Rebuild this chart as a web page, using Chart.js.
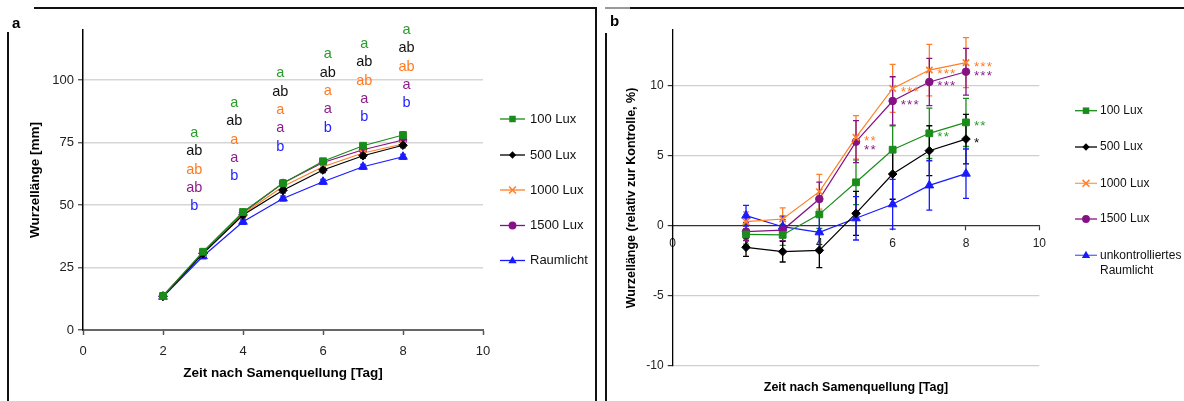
<!DOCTYPE html>
<html><head><meta charset="utf-8">
<script src="https://cdn.jsdelivr.net/npm/chart.js@4/dist/chart.umd.min.js"></script>
<style>
html,body{margin:0;padding:0;background:#fff;}
#wrap{position:relative;width:1184px;height:401px;overflow:hidden;background:#fff;font-family:"Liberation Sans",Arial,sans-serif;}
canvas{position:absolute;top:0;}
.ln{position:absolute;background:#111;}
.lab{position:absolute;font-weight:bold;font-size:15px;color:#000;line-height:15px;}
</style></head>
<body><div id="wrap">
<canvas id="ca" width="597" height="401" style="left:0px"></canvas>
<canvas id="cb" width="587" height="401" style="left:597px"></canvas>
<div class="ln" style="left:34px;top:7px;width:562px;height:2px"></div>
<div class="ln" style="left:7px;top:32px;width:2px;height:369px"></div>
<div class="ln" style="left:595px;top:7px;width:2px;height:394px"></div>
<div class="ln" style="left:605px;top:7px;width:25px;height:2px;background:#999"></div>
<div class="ln" style="left:630px;top:7px;width:554px;height:2px"></div>
<div class="ln" style="left:605px;top:33px;width:2px;height:368px"></div>
<div class="lab" style="left:12px;top:15px">a</div>
<div class="lab" style="left:610px;top:13px">b</div>
</div>
<script>
// ---------- data ----------
const days = [2, 3, 4, 5, 6, 7, 8];
const xTicks = [0, 2, 4, 6, 8, 10];
const yTicksA = [0, 25, 50, 75, 100];
const yTicksB = [-10, -5, 0, 5, 10];
const namesA = ['100 Lux', '500 Lux', '1000 Lux', '1500 Lux', 'Raumlicht'];
const namesB = ['100 Lux', '500 Lux', '1000 Lux', '1500 Lux', 'unkontrolliertes\nRaumlicht'];

// panel a: Wurzellänge [mm]
const lenLux100  = [13.6, 31.3, 47.2, 58.7, 67.5, 73.7, 78.0];
const lenLux500  = [13.4, 30.6, 46.0, 55.9, 64.0, 69.7, 73.9];
const lenLux1000 = [13.6, 30.7, 46.4, 57.4, 65.3, 70.8, 74.4];
const lenLux1500 = [13.7, 30.8, 46.9, 58.8, 67.0, 72.1, 76.0];
const lenRaum    = [13.3, 29.5, 43.3, 52.6, 59.3, 65.3, 69.3];
const errLux100  = [0.6, 1.0, 1.0, 1.0, 1.0, 1.0, 1.1];
const errLux500  = [0.6, 1.0, 1.1, 1.1, 1.1, 1.0, 1.0];
const errLux1000 = [0.6, 1.0, 1.0, 1.0, 1.0, 1.0, 1.0];
const errLux1500 = [0.6, 1.0, 1.0, 1.0, 1.0, 1.0, 1.0];
const errRaum    = [0.6, 1.0, 1.0, 1.0, 1.0, 1.0, 1.0];

// significance letters (days 3..8)
const letterDays = [2.78, 3.78, 4.93, 6.12, 7.03, 8.09];
const letterTopY = [78.9, 90.9, 102.7, 110.3, 114.5, 120.1];
const lettersLux100  = ['a', 'a', 'a', 'a', 'a', 'a'];
const lettersLux500  = ['ab', 'ab', 'ab', 'ab', 'ab', 'ab'];
const lettersLux1000 = ['ab', 'a', 'a', 'a', 'ab', 'ab'];
const lettersLux1500 = ['ab', 'a', 'a', 'a', 'a', 'a'];
const lettersRaum    = ['b', 'b', 'b', 'b', 'b', 'b'];

// panel b: relative to control [%]
const relLux100  = [-0.60, -0.64, 0.83, 3.12, 5.45, 6.62, 7.40];
const relLux500  = [-1.52, -1.83, -1.74, 0.90, 3.71, 5.38, 6.21];
const relLux1000 = [0.31, 0.50, 2.45, 6.33, 9.83, 11.14, 11.67];
const relLux1500 = [-0.40, -0.29, 1.93, 6.02, 8.93, 10.29, 11.02];
const relRaum    = [0.74, -0.05, -0.45, 0.55, 1.55, 2.90, 3.74];
const relErrLux100  = [0.70, 0.75, 1.00, 1.60, 1.70, 1.80, 1.72];
const relErrLux500  = [0.65, 0.74, 1.24, 1.57, 1.80, 1.78, 1.77];
const relErrLux1000 = [0.70, 0.79, 1.24, 1.55, 1.72, 1.84, 1.78];
const relErrLux1500 = [0.65, 0.75, 1.20, 1.50, 1.73, 1.69, 1.67];
const relErrRaum    = [0.74, 0.75, 1.30, 1.55, 1.78, 1.76, 1.76];
const starsLux100  = ['', '', '', '', '', '**', '**'];
const starsLux500  = ['', '', '', '', '', '', '*'];
const starsLux1000 = ['', '', '', '**', '***', '***', '***'];
const starsLux1500 = ['', '', '', '**', '***', '***', '***'];
const starsRaum    = ['', '', '', '', '', '', ''];

// ---------- styles ----------
const FONT = '"Liberation Sans", Arial, sans-serif';
const colors = ['#1a8c1a', '#000000', '#ff7f27', '#851185', '#1a1aff'];
const textColors = ['#2a9a2a', '#111111', '#ff7a22', '#8a1f8a', '#2323ff'];
const legendLineColorsB = ['#1a8c1a', '#000000', '#ffa060', '#851185', '#5a6aff'];
const pStyles = ['rect', 'rectRot', 'crossRot', 'circle', 'triangle'];
const pRadius = [4.8, 4.3, 4.5, 3.8, 5];

const seriesA = [lenLux100, lenLux500, lenLux1000, lenLux1500, lenRaum];
const errA = [errLux100, errLux500, errLux1000, errLux1500, errRaum];
const lettersA = [lettersLux100, lettersLux500, lettersLux1000, lettersLux1500, lettersRaum];
const seriesB = [relLux100, relLux500, relLux1000, relLux1500, relRaum];
const errB = [relErrLux100, relErrLux500, relErrLux1000, relErrLux1500, relErrRaum];
const starsB = [starsLux100, starsLux500, starsLux1000, starsLux1500, starsRaum];

function makeDatasets(series, names) {
  return series.map((vals, i) => ({
    label: names[i],
    data: days.map((d, j) => ({ x: d, y: vals[j] })),
    borderColor: colors[i],
    backgroundColor: colors[i],
    borderWidth: 1.2,
    pointStyle: pStyles[i],
    pointRadius: pRadius[i],
    pointBorderWidth: i === 2 ? 1.7 : 1,
    pointBackgroundColor: colors[i],
    pointBorderColor: colors[i],
    tension: 0,
    fill: false
  }));
}

function drawMarker(ctx, style, x, y, r, color) {
  ctx.save();
  ctx.fillStyle = color; ctx.strokeStyle = color; ctx.lineWidth = 1.5;
  ctx.beginPath();
  if (style === 'rect') { const s = r * Math.SQRT1_2; ctx.rect(x - s, y - s, 2 * s, 2 * s); ctx.fill(); }
  else if (style === 'rectRot') { const s = r * 0.8; ctx.moveTo(x, y - s); ctx.lineTo(x + s, y); ctx.lineTo(x, y + s); ctx.lineTo(x - s, y); ctx.closePath(); ctx.fill(); }
  else if (style === 'crossRot') { const s = r * 0.75; ctx.moveTo(x - s, y - s); ctx.lineTo(x + s, y + s); ctx.moveTo(x + s, y - s); ctx.lineTo(x - s, y + s); ctx.stroke(); }
  else if (style === 'circle') { ctx.arc(x, y, r * 0.85, 0, Math.PI * 2); ctx.fill(); }
  else if (style === 'triangle') { const s = r; ctx.moveTo(x, y - s); ctx.lineTo(x + s * 0.9, y + s * 0.6); ctx.lineTo(x - s * 0.9, y + s * 0.6); ctx.closePath(); ctx.fill(); }
  ctx.restore();
}

const errorBarPlugin = {
  id: 'errorBarPlugin',
  beforeDatasetsDraw(chart, args, opts) {
    const { ctx } = chart; const x = chart.scales.x, y = chart.scales.y;
    opts.errors.forEach((errs, i) => {
      const ds = chart.data.datasets[i];
      ctx.save(); ctx.strokeStyle = colors[i]; ctx.lineWidth = opts.width;
      ds.data.forEach((p, j) => {
        const px = x.getPixelForValue(p.x);
        const t = y.getPixelForValue(p.y + errs[j]), b = y.getPixelForValue(p.y - errs[j]);
        ctx.beginPath();
        ctx.moveTo(px, t); ctx.lineTo(px, b);
        ctx.moveTo(px - opts.cap, t); ctx.lineTo(px + opts.cap, t);
        ctx.moveTo(px - opts.cap, b); ctx.lineTo(px + opts.cap, b);
        ctx.stroke();
      });
      ctx.restore();
    });
  }
};

const decorPlugin = {
  id: 'decorPlugin',
  afterDraw(chart, args, opts) {
    const { ctx, chartArea: ca } = chart;
    ctx.save();
    ctx.fillStyle = '#000';
    ctx.font = 'bold ' + opts.titleSize + 'px ' + FONT;
    ctx.textAlign = 'center'; ctx.textBaseline = 'middle';
    ctx.fillText(opts.xTitle, (ca.left + ca.right) / 2, opts.xTitleY);
    ctx.save();
    ctx.translate(opts.yTitleX, (ca.top + ca.bottom) / 2);
    ctx.rotate(-Math.PI / 2);
    ctx.fillText(opts.yTitle, 0, 0);
    ctx.restore();
    ctx.font = opts.legendSize + 'px ' + FONT;
    ctx.textAlign = 'left'; ctx.textBaseline = 'middle';
    opts.names.forEach((n, i) => {
      const yy = opts.legendY[i];
      ctx.strokeStyle = opts.legendLineColors[i]; ctx.lineWidth = 1.3;
      ctx.beginPath(); ctx.moveTo(opts.legendX1, yy); ctx.lineTo(opts.legendX2, yy); ctx.stroke();
      drawMarker(ctx, pStyles[i], (opts.legendX1 + opts.legendX2) / 2, yy, 4.6, colors[i]);
      ctx.fillStyle = '#111';
      n.split('\n').forEach((line, k) => ctx.fillText(line, opts.legendTextX, yy + k * 15));
    });
    ctx.restore();
  }
};

const lettersPlugin = {
  id: 'lettersPlugin',
  afterDatasetsDraw(chart) {
    const { ctx } = chart; const x = chart.scales.x, y = chart.scales.y;
    ctx.save();
    ctx.font = '14.5px ' + FONT; ctx.textAlign = 'center'; ctx.textBaseline = 'middle';
    letterDays.forEach((d, j) => {
      const px = x.getPixelForValue(d);
      const top = y.getPixelForValue(letterTopY[j]);
      lettersA.forEach((arr, i) => {
        ctx.fillStyle = textColors[i];
        ctx.fillText(arr[j], px, top + i * 18.4);
      });
    });
    ctx.restore();
  }
};

const starsPlugin = {
  id: 'starsPlugin',
  afterDatasetsDraw(chart) {
    const { ctx } = chart; const x = chart.scales.x, y = chart.scales.y;
    ctx.save();
    ctx.font = '13.5px ' + FONT; ctx.textAlign = 'left'; ctx.textBaseline = 'alphabetic';
    days.forEach((d, j) => {
      const items = [];
      starsB.forEach((arr, i) => { if (arr[j]) items.push({ i, s: arr[j], py: y.getPixelForValue(seriesB[i][j]) }); });
      items.sort((a, b) => a.py - b.py);
      for (let k = 1; k < items.length; k++) if (items[k].py - items[k - 1].py < 9) items[k].py = items[k - 1].py + 9;
      const px = x.getPixelForValue(d) + 8;
      items.forEach(it => { ctx.fillStyle = textColors[it.i]; ctx.fillText(it.s.split('').join('\u200A'), px, it.py + 8); });
    });
    ctx.restore();
  }
};

function tickSetter(arr) { return (scale) => { scale.ticks = arr.map(v => ({ value: v })); }; }

Chart.defaults.font.family = FONT;
Chart.defaults.color = '#222';

// ---------- chart a ----------
new Chart(document.getElementById('ca'), {
  type: 'line',
  data: { datasets: makeDatasets(seriesA, namesA) },
  plugins: [errorBarPlugin, lettersPlugin, decorPlugin],
  options: {
    responsive: false, animation: false, devicePixelRatio: 1,
    layout: { padding: { left: 50, right: 114, top: 30, bottom: 41 } },
    plugins: {
      legend: { display: false }, tooltip: { enabled: false },
      errorBarPlugin: { errors: errA, width: 1.2, cap: 3 },
      decorPlugin: {
        xTitle: 'Zeit nach Samenquellung [Tag]', yTitle: 'Wurzellänge [mm]',
        titleSize: 13.5, xTitleY: 373, yTitleX: 35,
        names: namesA, legendSize: 13, legendX1: 500, legendX2: 525, legendTextX: 530,
        legendY: [119, 155, 190, 225.5, 260.5], legendLineColors: colors
      }
    },
    scales: {
      x: {
        type: 'linear', min: 0, max: 10,
        afterBuildTicks: tickSetter(xTicks),
        afterFit: (s) => { s.height = 30; },
        grid: { drawOnChartArea: false, drawTicks: true, tickLength: 5, tickColor: '#555', tickWidth: 1.5 },
        border: { color: '#666', width: 2 },
        ticks: { font: { size: 13 }, color: '#222', padding: 9, maxRotation: 0 }
      },
      y: {
        min: 0, max: 120,
        afterBuildTicks: tickSetter(yTicksA),
        afterFit: (s) => { s.width = 33; },
        grid: { color: (c) => (c.tick && c.tick.value === 0) ? 'rgba(0,0,0,0)' : '#d6d6d6', lineWidth: 1.5, tickLength: 5, tickColor: '#444', tickWidth: 1.2 },
        border: { color: '#000', width: 1.5 },
        ticks: { font: { size: 13 }, color: '#222', padding: 4 }
      }
    }
  }
});

// ---------- chart b ----------
new Chart(document.getElementById('cb'), {
  type: 'line',
  data: { datasets: makeDatasets(seriesB, namesB) },
  plugins: [errorBarPlugin, starsPlugin, decorPlugin],
  options: {
    responsive: false, animation: false, devicePixelRatio: 1,
    layout: { padding: { left: 45, right: 144.7, top: 30, bottom: 35 } },
    plugins: {
      legend: { display: false }, tooltip: { enabled: false },
      errorBarPlugin: { errors: errB, width: 1.3, cap: 3 },
      decorPlugin: {
        xTitle: 'Zeit nach Samenquellung [Tag]', yTitle: 'Wurzellänge (relativ zur Kontrolle, %)',
        titleSize: 12.5, xTitleY: 388, yTitleX: 34.5,
        names: namesB, legendSize: 12, legendX1: 478, legendX2: 500, legendTextX: 503,
        legendY: [110.7, 147, 183.3, 219, 255.3], legendLineColors: legendLineColorsB
      }
    },
    scales: {
      x: {
        type: 'linear', min: 0, max: 10, position: { y: 0 },
        afterBuildTicks: tickSetter(xTicks),
        grid: { drawOnChartArea: false, drawTicks: true, tickLength: 4, tickColor: '#333', tickWidth: 1.2 },
        border: { color: '#333', width: 1.3 },
        ticks: { font: { size: 12 }, color: '#222', padding: 6, maxRotation: 0 }
      },
      y: {
        min: -10, max: 14,
        afterBuildTicks: tickSetter(yTicksB),
        afterFit: (s) => { s.width = 30.7; },
        grid: { color: (c) => (c.tick && c.tick.value === 0) ? 'rgba(0,0,0,0)' : '#cfcfcf', lineWidth: 1.2, tickLength: 5, tickColor: '#333', tickWidth: 1.2 },
        border: { color: '#000', width: 1.3 },
        ticks: { font: { size: 12 }, color: '#222', padding: 4 }
      }
    }
  }
});
</script>
</body></html>
